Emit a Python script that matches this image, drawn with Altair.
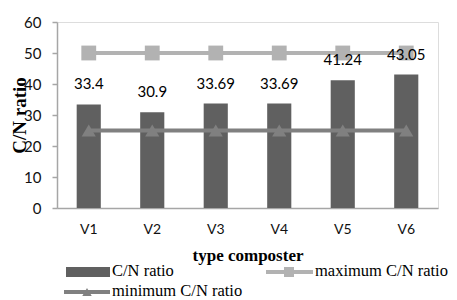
import altair as alt
import pandas as pd

categories = ["V1", "V2", "V3", "V4", "V5", "V6"]
cn_ratio = [33.4, 30.9, 33.69, 33.69, 41.24, 43.05]
max_cn = [50, 50, 50, 50, 50, 50]
min_cn = [25, 25, 25, 25, 25, 25]
y_ticks = [0, 10, 20, 30, 40, 50, 60]

df = pd.DataFrame({"type": categories, "cn": cn_ratio, "max": max_cn, "min": min_cn})

W, H = 381, 186
x_axis = alt.Axis(title="type composter", labelAngle=0, ticks=False,
                  labelPadding=14, titlePadding=11,
                  labelFont="Lato", labelFontSize=14, labelColor="#111",
                  titleFont="Liberation Serif", titleFontSize=17,
                  titleFontWeight="bold", titleColor="#000",
                  domainColor="#a6a6a6", domainWidth=1.5)
x_scale = alt.Scale(paddingInner=0.62, paddingOuter=0.31)
y_scale = alt.Scale(domain=[0, 60], nice=False)
y_axis = alt.Axis(title="C/N ratio", values=y_ticks, tickCount=7, grid=False,
                  tickSize=5, labelOverlap=False,
                  tickColor="#a6a6a6", tickWidth=1.5, labelPadding=11,
                  labelFont="Lato", labelFontSize=15, labelColor="#111",
                  titleFont="Liberation Serif", titleFontSize=19,
                  titleFontWeight="bold", titleColor="#000", titlePadding=-6,
                  domainColor="#a6a6a6", domainWidth=1.5)


def X():
    return alt.X("type:N", sort=categories, scale=x_scale, axis=x_axis)


def Y(field):
    return alt.Y(f"{field}:Q", scale=y_scale, axis=y_axis)


base = alt.Chart(df)
bars = base.mark_bar(color="#606060").encode(x=X(), y=Y("cn"))
max_line = base.mark_line(color="#b2b2b2", strokeWidth=4).encode(x=X(), y=Y("max"))
max_pts = base.mark_point(shape="square", filled=True, opacity=1, size=220,
                          color="#b2b2b2").encode(x=X(), y=Y("max"))
min_line = base.mark_line(color="#808080", strokeWidth=4).encode(x=X(), y=Y("min"))
min_pts = base.mark_point(shape="triangle-up", filled=True, opacity=1, size=200,
                          color="#808080").encode(x=X(), y=Y("min"))
labels = base.mark_text(font="Lato", fontSize=15, color="#000",
                        baseline="middle", dy=-20).encode(
    x=X(), y=Y("cn"), text=alt.Text("cn:Q"))

# legend
leg = alt.Chart(pd.DataFrame({"k": [0]}))
lg_font = dict(font="Liberation Serif", fontSize=16.5, color="#000",
               baseline="middle", align="left")
leg_rect = leg.mark_rect(color="#606060").encode(
    x=alt.value(9), x2=alt.value(53), y=alt.value(245), y2=alt.value(255))
leg_t1 = leg.mark_text(**lg_font).encode(
    x=alt.value(55), y=alt.value(249), text=alt.value("C/N ratio"))
leg_max_l = leg.mark_rule(color="#b2b2b2", strokeWidth=4).encode(
    x=alt.value(209), x2=alt.value(256), y=alt.value(250))
leg_max_p = leg.mark_point(shape="square", filled=True, opacity=1, size=100,
                           color="#b2b2b2").encode(
    x=alt.value(232), y=alt.value(250))
leg_t2 = leg.mark_text(**lg_font).encode(
    x=alt.value(258), y=alt.value(249), text=alt.value("maximum C/N ratio"))
leg_min_l = leg.mark_rule(color="#808080", strokeWidth=4).encode(
    x=alt.value(7), x2=alt.value(53), y=alt.value(270))
leg_min_p = leg.mark_point(shape="triangle-up", filled=True, opacity=1, size=90,
                           color="#808080").encode(
    x=alt.value(30), y=alt.value(270))
leg_t3 = leg.mark_text(**lg_font).encode(
    x=alt.value(55), y=alt.value(269), text=alt.value("minimum C/N ratio"))

chart = alt.layer(
    bars, max_line, max_pts, min_line, min_pts, labels,
    leg_rect, leg_t1, leg_max_l, leg_max_p, leg_t2, leg_min_l, leg_min_p, leg_t3
).properties(
    width=W, height=H,
    autosize=alt.AutoSizeParams(type="none"),
    padding={"left": 49, "top": 14, "right": 11, "bottom": 92},
).configure_view(stroke=None).configure(background="white")

chart.save("out.html", embed_options={"renderer": "svg", "actions": False})
